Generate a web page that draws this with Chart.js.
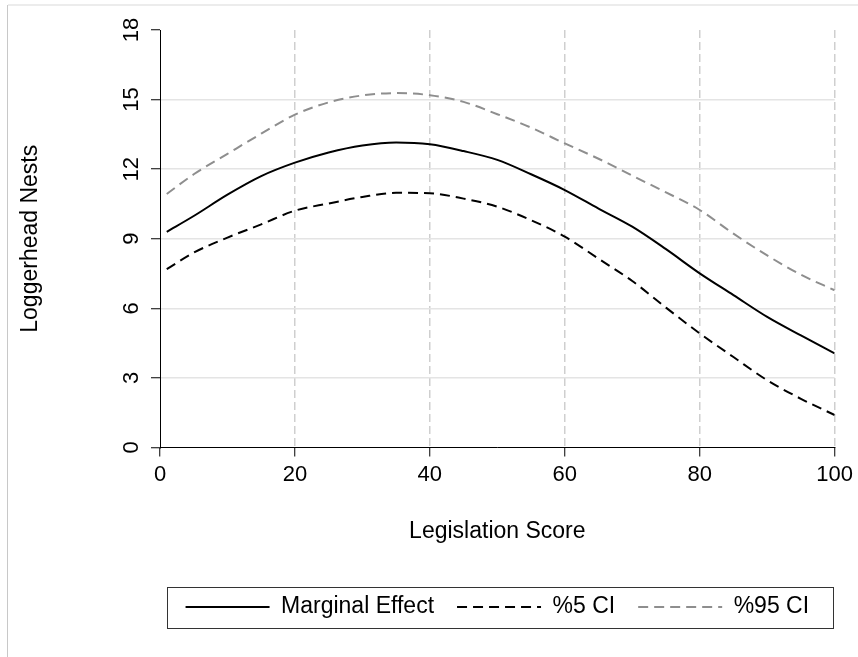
<!DOCTYPE html>
<html>
<head>
<meta charset="utf-8">
<script src="https://cdn.jsdelivr.net/npm/chart.js@4.4.1/dist/chart.umd.min.js"></script>
<style>
  html, body { margin: 0; padding: 0; background: #fff; }
</style>
</head>
<body>
<canvas id="chartMarginal" width="858" height="657"></canvas>
<script>
'use strict';

// Legislation score (x) and estimates
var scores = [1, 5, 10, 15, 20, 25, 30, 35, 40, 45, 50, 55, 60, 65, 70, 75, 80, 85, 90, 95, 100];
var marginalEffect = [9.30, 9.98, 10.90, 11.70, 12.28, 12.72, 13.02, 13.15, 13.07, 12.78, 12.40,
                      11.78, 11.10, 10.30, 9.52, 8.55, 7.51, 6.57, 5.63, 4.83, 4.06];
var ciLow = [7.69, 8.40, 9.05, 9.62, 10.21, 10.52, 10.80, 10.98, 10.96, 10.73, 10.38,
             9.80, 9.09, 8.14, 7.18, 6.03, 4.92, 3.90, 2.90, 2.10, 1.40];
var ciHigh = [10.93, 11.78, 12.66, 13.53, 14.35, 14.88, 15.18, 15.28, 15.19, 14.90, 14.37,
              13.79, 13.11, 12.45, 11.72, 11.00, 10.24, 9.22, 8.28, 7.45, 6.78];
var seriesNames = ['Marginal Effect', '%5 CI', '%95 CI'];
var xTicks = [0, 20, 40, 60, 80, 100];
var yTicks = [0, 3, 6, 9, 12, 15, 18];

var FONT = '"Liberation Sans", Arial, Helvetica, sans-serif';
Chart.defaults.font.family = FONT;
Chart.defaults.color = '#000';

function toPoints(vals) {
    return scores.map(function(s, i) { return { x: s, y: vals[i] }; });
}

// frame lines, rotated y tick labels, legend border
var extras = {
    id: 'extras',
    beforeDraw: function(chart) {
        var ctx = chart.ctx;
        ctx.save();
        ctx.fillStyle = '#fff';
        ctx.fillRect(0, 0, chart.width, chart.height);
        ctx.strokeStyle = '#ececec';
        ctx.lineWidth = 2;
        ctx.beginPath();
        ctx.moveTo(8, 5);
        ctx.lineTo(chart.width, 5);
        ctx.stroke();
        ctx.strokeStyle = '#c8c8c8';
        ctx.lineWidth = 1;
        ctx.beginPath();
        ctx.moveTo(7.5, 5);
        ctx.lineTo(7.5, chart.height);
        ctx.stroke();
        ctx.restore();
    },
    afterDraw: function(chart) {
        var ctx = chart.ctx;
        var yScale = chart.scales.y;
        ctx.save();
        ctx.font = '22px ' + FONT;
        ctx.fillStyle = '#000';
        ctx.textAlign = 'center';
        ctx.textBaseline = 'middle';
        yTicks.forEach(function(v) {
            var py = yScale.getPixelForValue(v);
            ctx.save();
            ctx.translate(yScale.right - 28, py);
            ctx.rotate(-Math.PI / 2);
            ctx.fillText(String(v), 0, 0);
            ctx.restore();
        });

        var legend = chart.legend;
        if (legend && legend.legendHitBoxes && legend.legendHitBoxes.length) {
            var hb = legend.legendHitBoxes[0];
            var cy = hb.top + hb.height / 2;
            var area = chart.chartArea;
            ctx.strokeStyle = '#333';
            ctx.lineWidth = 1;
            ctx.strokeRect(Math.round(area.left + 7) + 0.5, Math.round(cy - 20.5) + 0.5,
                           Math.round(area.right - area.left - 9), 41);
        }
        ctx.restore();
    }
};

var ctxLine = document.getElementById('chartMarginal');
var marginalChart = new Chart(ctxLine, {
    type: 'line',
    data: {
        datasets: [{
            label: seriesNames[0],
            data: toPoints(marginalEffect),
            borderColor: '#000',
            borderWidth: 2,
            borderDash: []
        }, {
            label: seriesNames[1],
            data: toPoints(ciLow),
            borderColor: '#000',
            borderWidth: 2,
            borderDash: [10, 6]
        }, {
            label: seriesNames[2],
            data: toPoints(ciHigh),
            borderColor: '#8e8e8e',
            borderWidth: 2,
            borderDash: [10, 6]
        }]
    },
    options: {
        responsive: false,
        animation: false,
        events: [],
        elements: {
            point: { radius: 0 },
            line: { cubicInterpolationMode: 'monotone', fill: false }
        },
        layout: {
            padding: { left: 8, right: 20, top: 30, bottom: 28.5 }
        },
        plugins: {
            tooltip: { enabled: false },
            legend: {
                position: 'bottom',
                fullSize: false,
                labels: {
                    usePointStyle: true,
                    pointStyle: 'line',
                    pointStyleWidth: 84,
                    boxHeight: 23,
                    padding: 23,
                    color: '#000',
                    font: { size: 23 },
                    generateLabels: function(chart) {
                        var items = Chart.defaults.plugins.legend.labels.generateLabels(chart);
                        items.forEach(function(it) {
                            var ds = chart.data.datasets[it.datasetIndex];
                            it.lineDash = ds.borderDash || [];
                            it.strokeStyle = ds.borderColor;
                            it.lineWidth = ds.borderWidth;
                            it.pointStyle = 'line';
                        });
                        return items;
                    }
                }
            }
        },
        scales: {
            x: {
                type: 'linear',
                min: 0,
                max: 100,
                afterBuildTicks: function(scale) {
                    scale.ticks = xTicks.map(function(v) { return { value: v }; });
                },
                afterFit: function(scale) { scale.height = 125; },
                ticks: {
                    color: '#000',
                    padding: 5,
                    maxRotation: 0,
                    font: { size: 22 }
                },
                grid: {
                    color: function(c) {
                        return c.tick && c.tick.value === 0 ? 'rgba(0,0,0,0)' : '#cfcfcf';
                    },
                    lineWidth: 1.5,
                    tickColor: '#000',
                    tickWidth: 1,
                    tickLength: 9,
                    tickBorderDash: []
                },
                border: { color: '#000', width: 1, dash: [8, 4] },
                title: {
                    display: true,
                    text: 'Legislation Score',
                    color: '#000',
                    font: { size: 23 },
                    padding: { top: 0, bottom: 27 }
                }
            },
            y: {
                min: 0,
                max: 18,
                afterBuildTicks: function(scale) {
                    scale.ticks = yTicks.map(function(v) { return { value: v }; });
                },
                afterFit: function(scale) { scale.width = 152; },
                ticks: { display: false },
                grid: {
                    color: function(c) {
                        var v = c.tick ? c.tick.value : null;
                        return (v === 0 || v === 18) ? 'rgba(0,0,0,0)' : '#e4e4e4';
                    },
                    lineWidth: 1.5,
                    tickColor: '#000',
                    tickWidth: 1,
                    tickLength: 9
                },
                border: { color: '#000', width: 1 },
                title: {
                    display: true,
                    text: 'Loggerhead Nests',
                    color: '#000',
                    font: { size: 23 },
                    padding: { top: 9, bottom: 0 }
                }
            }
        }
    },
    plugins: [extras]
});
</script>
</body>
</html>
